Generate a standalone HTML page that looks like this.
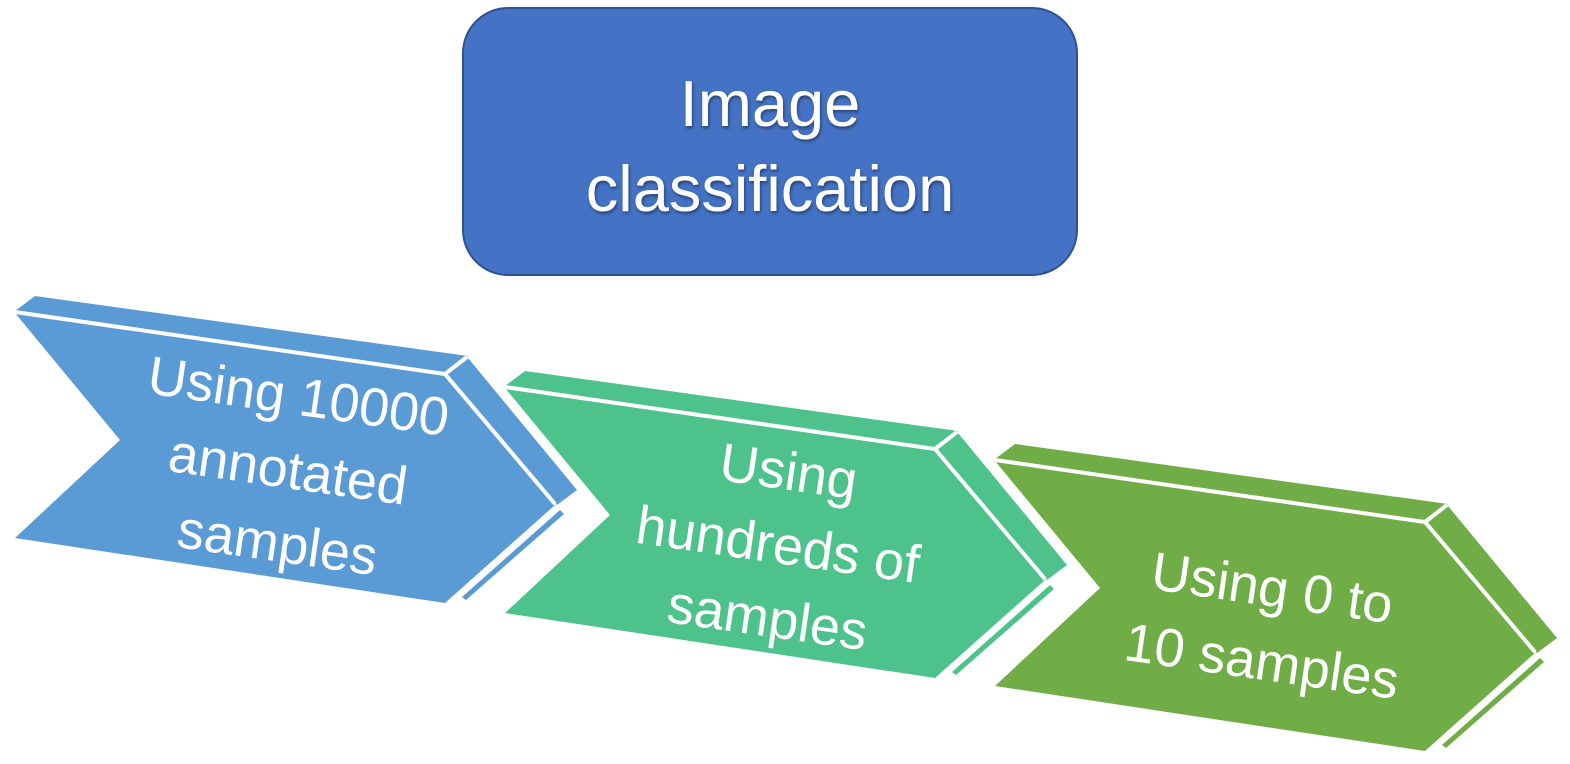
<!DOCTYPE html>
<html><head><style>
html,body{margin:0;padding:0;background:#fff;}
svg{display:block;}
text{font-family:"Liberation Sans",sans-serif;fill:#fff;}
</style></head><body>
<svg width="1570" height="764" viewBox="0 0 1570 764" xmlns="http://www.w3.org/2000/svg">
<defs>
<filter id="sh" x="-10%" y="-10%" width="120%" height="120%">
<feDropShadow dx="1" dy="2" stdDeviation="1.5" flood-color="#000" flood-opacity="0.45"/>
</filter>
<g id="chev">
  <polygon points="15,311 35,296 468,356 445,373" />
  <polygon points="447,375 468,358 577,490 557,505" />
  <polygon points="462,597 560,510 564,514 466,600" />
  <polygon points="15,313 445,375 555,505 445,603 15,538 120,440" />
  <polyline points="15,312 445,374 555,504" fill="none" stroke="#fff" stroke-width="4"/>
  <line x1="445" y1="374" x2="467" y2="357" stroke="#fff" stroke-width="4"/>
</g>
</defs>
<rect x="463" y="8" width="614" height="267" rx="45" fill="#4472C4" stroke="#2F528F" stroke-width="2"/>
<g filter="url(#sh)" font-size="65" text-anchor="middle">
<text x="770" y="126">Image</text>
<text x="770" y="211">classification</text>
</g>
<use href="#chev" fill="#5B9BD5"/>
<use href="#chev" fill="#4DC38B" transform="translate(490,75)"/>
<use href="#chev" fill="#70AD47" transform="translate(980,148)"/>
<g font-size="54" text-anchor="middle">
<g transform="rotate(8.2 288 470)">
<text x="288" y="414">Using 10000</text>
<text x="288" y="488">annotated</text>
<text x="288" y="562">samples</text>
</g>
<g transform="rotate(8.2 778 545)">
<text x="778" y="489">Using</text>
<text x="778" y="563">hundreds of</text>
<text x="778" y="637">samples</text>
</g>
<g transform="rotate(8.2 1268 618)">
<text x="1268" y="606">Using 0 to</text>
<text x="1268" y="680">10 samples</text>
</g>
</g>
</svg>
</body></html>
